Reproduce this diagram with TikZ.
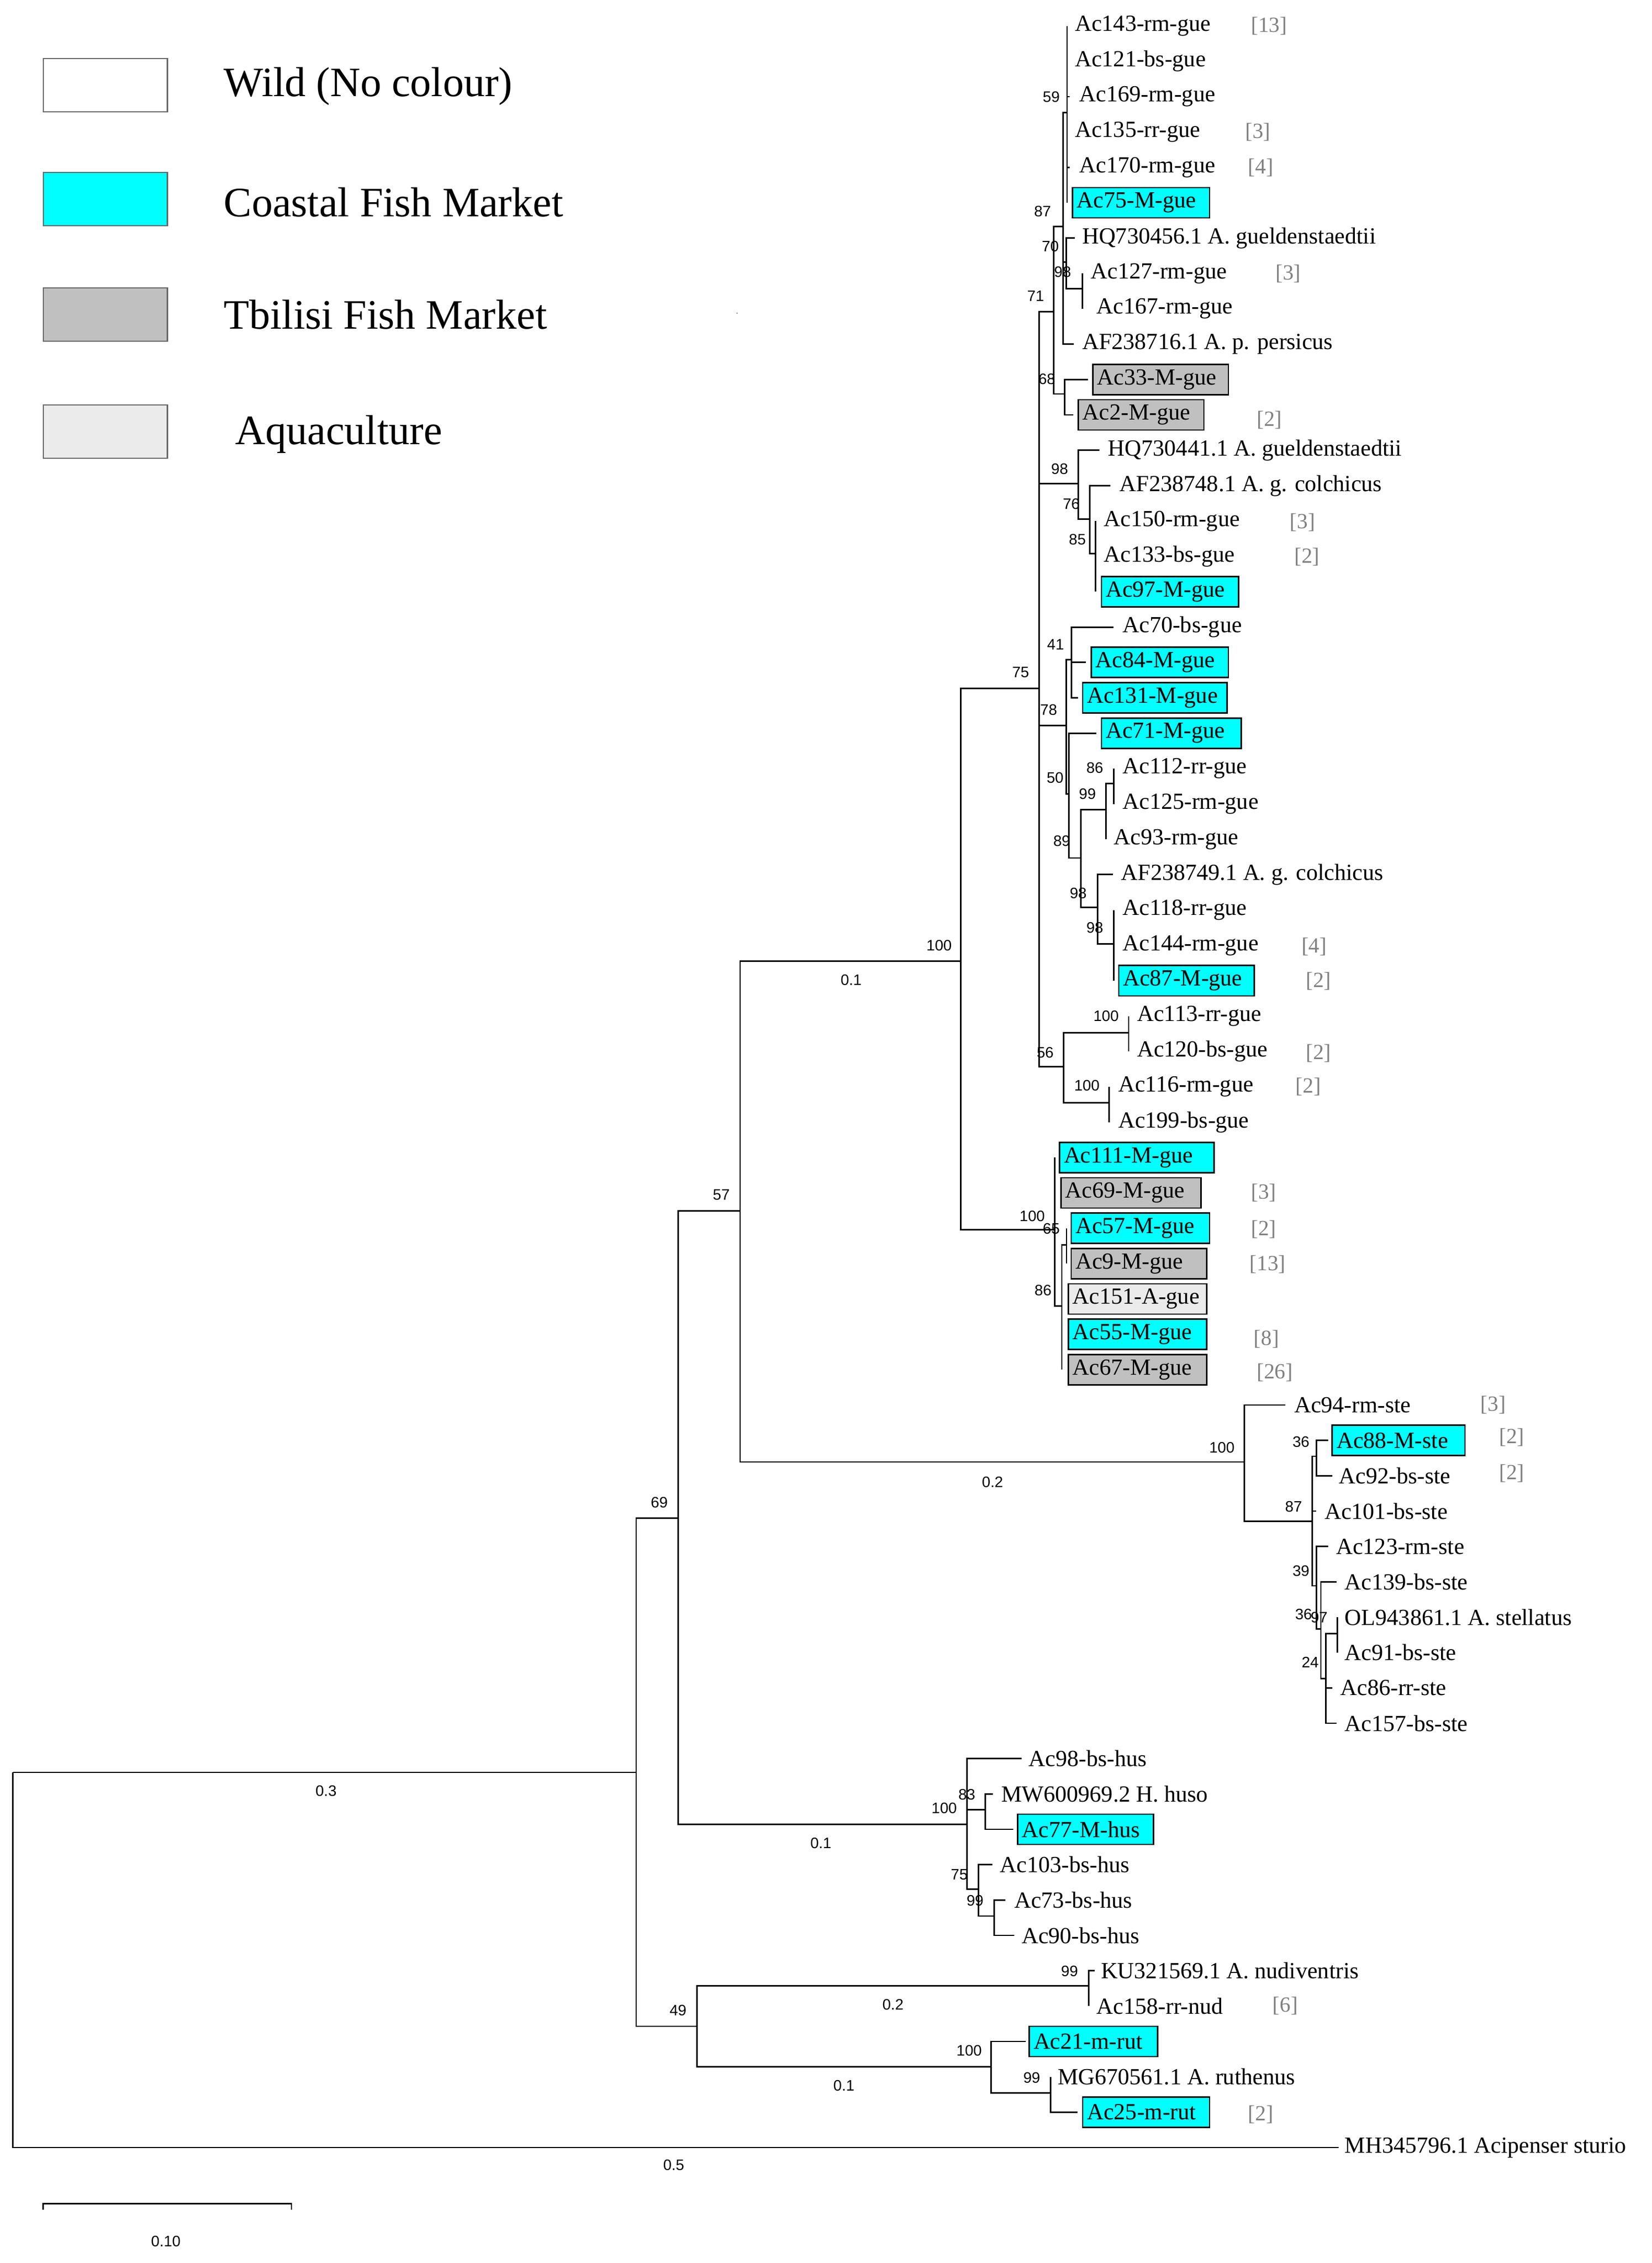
\documentclass[tikz,border=0pt]{standalone}
\usepackage{fontspec}
\setmainfont{Liberation Serif}
\newfontfamily\numfont{Liberation Sans}
\definecolor{cyanf}{RGB}{0,255,255}
\definecolor{tbg}{RGB}{192,192,192}
\definecolor{aqg}{RGB}{235,235,235}
\definecolor{brk}{RGB}{128,128,128}
\tikzset{
  br/.style={line width=1pt, black},
  lf/.style={anchor=west, inner sep=0pt, font=\fontsize{16}{16}\selectfont},
  bx/.style={anchor=west, draw=black, line width=1pt, inner sep=0pt, minimum height=21pt, font=\fontsize{16}{16}\selectfont, align=left},
  bs/.style={font=\numfont\fontsize{10.5}{10.5}\selectfont, inner sep=0pt},
  cnt/.style={anchor=west, inner sep=0pt, text=brk, font=\fontsize{15}{15}\selectfont},
  lgb/.style={draw=black!60, line width=0.8pt, minimum width=86pt, minimum height=37pt, inner sep=0pt},
  lgt/.style={anchor=west, inner sep=0pt, font=\fontsize{29}{29}\selectfont}
}
\newcommand{\lbox}[6]{\node[bx, fill=#1, text width=#5pt] (#6) at (#2,#3) {\hspace{3pt}#4};}
\begin{document}
\begin{tikzpicture}[x=1pt,y=-1pt]
\useasboundingbox (0,0) rectangle (1145,1568);
% legend
\node[lgb, fill=white] (lg1) at (73,59) {};
\node[lgb, fill=cyanf] (lg2) at (73,138) {};
\node[lgb, fill=tbg] (lg3) at (73,218) {};
\node[lgb, fill=aqg] (lg4) at (73,299) {};
\node[lgt] (lt1) at (155,60) {Wild (No colour)};
\node[lgt] (lt2) at (155,140) {Coastal Fish Market};
\node[lgt] (lt3) at (155,218) {Tbilisi Fish Market};
\node[lgt] (lt4) at (163,301) {Aquaculture};
\node[inner sep=0pt, font=\tiny] (dot) at (511,217) {.};

% internal nodes
\coordinate (R) at (9,1228);
\coordinate (A) at (441,1228);
\coordinate (N69) at (470,1052);
\coordinate (N49) at (483,1404);
\coordinate (N57) at (513,839);
\coordinate (Nhus) at (670.2,1264);
\coordinate (Ngue) at (666,666);
\coordinate (Nste) at (862.6,1013);
\coordinate (N75) at (720.3,477);
\coordinate (Nmk) at (731.1,852);
\coordinate (N71) at (730.5,216);
\coordinate (Na) at (737,157);
\coordinate (N68) at (738.1,273);
\coordinate (N59) at (739.6,78);
\coordinate (Nhq) at (739,181.5);
\coordinate (N98b) at (750.4,200);
\coordinate (N98) at (747.4,335);
\coordinate (N76) at (755.5,359.6);
\coordinate (N85) at (759.5,383.7);
\coordinate (N78) at (739,502.7);
\coordinate (N41) at (742.6,457);
\coordinate (N50) at (740.8,550);
\coordinate (N89) at (749.2,594.5);
\coordinate (N99) at (766.7,561);
\coordinate (N86) at (772,543);
\coordinate (N98c) at (760.7,628.7);
\coordinate (N98d) at (772,654);
\coordinate (N56) at (737.4,739);
\coordinate (N100a) at (782.4,715.5);
\coordinate (N100b) at (768.8,764);
\coordinate (N86m) at (736,905);
\coordinate (N65) at (739.3,862.6);
\coordinate (N87s) at (909.6,1054);
\coordinate (N36a) at (912.6,1009);
\coordinate (N39) at (912.6,1098.8);
\coordinate (N36b) at (915.6,1128.7);
\coordinate (N24) at (919,1163);
\coordinate (N97) at (927.1,1131.8);
\coordinate (N83) at (683.1,1254);
\coordinate (N75h) at (678.3,1309);
\coordinate (N99h) at (689.1,1327.6);
\coordinate (Nnud) at (754.6,1376);
\coordinate (Nrut) at (687.1,1432);
\coordinate (N99r) at (728.1,1450);

% leaf tips
\coordinate (t1) at (739.6,18);
\coordinate (t2) at (739.6,42.5);
\coordinate (t3) at (741.4,67);
\coordinate (t4) at (739.6,91.5);
\coordinate (t5) at (741.4,116);
\coordinate (t6) at (739.6,140.5);
\coordinate (t7) at (745,165);
\coordinate (t8) at (750.4,189.5);
\coordinate (t9) at (750.4,214);
\coordinate (t10) at (744.4,238.5);
\coordinate (t11) at (754,263);
\coordinate (t12) at (744,287.5);
\coordinate (t13) at (762,312);
\coordinate (t14) at (769.7,336.5);
\coordinate (t15) at (759.5,361);
\coordinate (t16) at (759.5,385.5);
\coordinate (t17) at (759.5,410);
\coordinate (t18) at (772,434.5);
\coordinate (t19) at (752.8,459);
\coordinate (t20) at (747.4,483.5);
\coordinate (t21) at (760,508);
\coordinate (t22) at (772,532.5);
\coordinate (t23) at (772,557);
\coordinate (t24) at (766.7,581.5);
\coordinate (t25) at (771.5,606);
\coordinate (t26) at (772,630.5);
\coordinate (t27) at (772,655);
\coordinate (t28) at (772,679.5);
\coordinate (t29) at (782.4,704);
\coordinate (t30) at (782.4,728.5);
\coordinate (t31) at (768.8,753);
\coordinate (t32) at (768.8,777.5);
\coordinate (t33) at (731.1,802);
\coordinate (t34) at (731.1,826.5);
\coordinate (t35) at (739.3,851);
\coordinate (t36) at (739.3,875.5);
\coordinate (t37) at (736,900);
\coordinate (t38) at (736,924.5);
\coordinate (t39) at (736,949);
\coordinate (t40) at (891,973.5);
\coordinate (t41) at (920.5,998);
\coordinate (t42) at (923.5,1022.5);
\coordinate (t43) at (912.5,1047);
\coordinate (t44) at (920.5,1071.5);
\coordinate (t45) at (926.5,1096);
\coordinate (t46) at (927.1,1120.5);
\coordinate (t47) at (927.1,1145);
\coordinate (t48) at (923.5,1169.5);
\coordinate (t49) at (926.5,1194);
\coordinate (t50) at (708.2,1218.5);
\coordinate (t51) at (688.3,1243);
\coordinate (t52) at (702.2,1267.5);
\coordinate (t53) at (687.7,1292);
\coordinate (t54) at (697.1,1316.5);
\coordinate (t55) at (703.1,1341);
\coordinate (t56) at (758.9,1365.5);
\coordinate (t57) at (754.6,1390);
\coordinate (t58) at (711.2,1414.5);
\coordinate (t59) at (728.1,1439);
\coordinate (t60) at (746.8,1463.5);
\coordinate (t61) at (928,1488);

% branches
\draw[br] (R) |- (A); \draw[br] (R) |- (t61);
\draw[br] (A) |- (N69); \draw[br] (A) |- (N49);
\draw[br] (N69) |- (N57); \draw[br] (N69) |- (Nhus);
\draw[br] (N57) |- (Ngue); \draw[br] (N57) |- (Nste);
\draw[br] (Ngue) |- (N75); \draw[br] (Ngue) |- (Nmk);
\foreach \c in {N71,N98,N78,N56} \draw[br] (N75) |- (\c);
\draw[br] (N71) |- (Na); \draw[br] (N71) |- (N68);
\foreach \c in {N59,Nhq,t10} \draw[br] (Na) |- (\c);
\foreach \c in {t1,t2,t3,t4,t5,t6} \draw[br] (N59) |- (\c);
\draw[br] (Nhq) |- (t7); \draw[br] (Nhq) |- (N98b);
\draw[br] (N98b) |- (t8); \draw[br] (N98b) |- (t9);
\draw[br] (N68) |- (t11); \draw[br] (N68) |- (t12);
\draw[br] (N98) |- (t13); \draw[br] (N98) |- (N76);
\draw[br] (N76) |- (t14); \draw[br] (N76) |- (N85);
\foreach \c in {t15,t16,t17} \draw[br] (N85) |- (\c);
\draw[br] (N78) |- (N41); \draw[br] (N78) |- (N50);
\foreach \c in {t18,t19,t20} \draw[br] (N41) |- (\c);
\draw[br] (N50) |- (t21); \draw[br] (N50) |- (N89);
\draw[br] (N89) |- (N99); \draw[br] (N89) |- (N98c);
\draw[br] (N99) |- (N86); \draw[br] (N99) |- (t24);
\draw[br] (N86) |- (t22); \draw[br] (N86) |- (t23);
\draw[br] (N98c) |- (t25); \draw[br] (N98c) |- (N98d);
\foreach \c in {t26,t27,t28} \draw[br] (N98d) |- (\c);
\draw[br] (N56) |- (N100a); \draw[br] (N56) |- (N100b);
\draw[br] (N100a) |- (t29); \draw[br] (N100a) |- (t30);
\draw[br] (N100b) |- (t31); \draw[br] (N100b) |- (t32);
\foreach \c in {t33,t34,N86m} \draw[br] (Nmk) |- (\c);
\foreach \c in {N65,t37,t38,t39} \draw[br] (N86m) |- (\c);
\draw[br] (N65) |- (t35); \draw[br] (N65) |- (t36);
\draw[br] (Nste) |- (t40); \draw[br] (Nste) |- (N87s);
\foreach \c in {N36a,t43,N39} \draw[br] (N87s) |- (\c);
\draw[br] (N36a) |- (t41); \draw[br] (N36a) |- (t42);
\draw[br] (N39) |- (t44); \draw[br] (N39) |- (N36b);
\draw[br] (N36b) |- (t45); \draw[br] (N36b) |- (N24);
\foreach \c in {N97,t48,t49} \draw[br] (N24) |- (\c);
\draw[br] (N97) |- (t46); \draw[br] (N97) |- (t47);
\foreach \c in {t50,N83,N75h} \draw[br] (Nhus) |- (\c);
\draw[br] (N83) |- (t51); \draw[br] (N83) |- (t52);
\draw[br] (N75h) |- (t53); \draw[br] (N75h) |- (N99h);
\draw[br] (N99h) |- (t54); \draw[br] (N99h) |- (t55);
\draw[br] (N49) |- (Nnud); \draw[br] (N49) |- (Nrut);
\draw[br] (Nnud) |- (t56); \draw[br] (Nnud) |- (t57);
\draw[br] (Nrut) |- (t58); \draw[br] (Nrut) |- (N99r);
\draw[br] (N99r) |- (t59); \draw[br] (N99r) |- (t60);

% leaf labels
\node[lf] (l1) at (745,18) {Ac143-rm-gue};
\node[lf] (l2) at (745,42.5) {Ac121-bs-gue};
\node[lf] (l3) at (748,67) {Ac169-rm-gue};
\node[lf] (l4) at (745,91.5) {Ac135-rr-gue};
\node[lf] (l5) at (748,116) {Ac170-rm-gue};
\lbox{cyanf}{743}{140.5}{Ac75-M-gue}{95}{l6}
\node[lf] (l7) at (750,165) {HQ730456.1 A. gueldenstaedtii};
\node[lf] (l8) at (756,189.5) {Ac127-rm-gue};
\node[lf] (l9) at (760,214) {Ac167-rm-gue};
\node[lf] (l10) at (750,238.5) {AF238716.1 A. p. persicus};
\lbox{tbg}{757}{263}{Ac33-M-gue}{94}{l11}
\lbox{tbg}{747}{287.5}{Ac2-M-gue}{87}{l12}
\node[lf] (l13) at (768,312) {HQ730441.1 A. gueldenstaedtii};
\node[lf] (l14) at (776,336.5) {AF238748.1 A. g. colchicus};
\node[lf] (l15) at (765,361) {Ac150-rm-gue};
\node[lf] (l16) at (765,385.5) {Ac133-bs-gue};
\lbox{cyanf}{763}{410}{Ac97-M-gue}{95}{l17}
\node[lf] (l18) at (778,434.5) {Ac70-bs-gue};
\lbox{cyanf}{756}{459}{Ac84-M-gue}{95}{l19}
\lbox{cyanf}{750}{483.5}{Ac131-M-gue}{100}{l20}
\lbox{cyanf}{763}{508}{Ac71-M-gue}{97}{l21}
\node[lf] (l22) at (778,532.5) {Ac112-rr-gue};
\node[lf] (l23) at (778,557) {Ac125-rm-gue};
\node[lf] (l24) at (772,581.5) {Ac93-rm-gue};
\node[lf] (l25) at (777,606) {AF238749.1 A. g. colchicus};
\node[lf] (l26) at (778,630.5) {Ac118-rr-gue};
\node[lf] (l27) at (778,655) {Ac144-rm-gue};
\lbox{cyanf}{775}{679.5}{Ac87-M-gue}{94}{l28}
\node[lf] (l29) at (788,704) {Ac113-rr-gue};
\node[lf] (l30) at (788,728.5) {Ac120-bs-gue};
\node[lf] (l31) at (775,753) {Ac116-rm-gue};
\node[lf] (l32) at (775,777.5) {Ac199-bs-gue};
\lbox{cyanf}{734}{802}{Ac111-M-gue}{107}{l33}
\lbox{tbg}{735}{826.5}{Ac69-M-gue}{97}{l34}
\lbox{cyanf}{742}{851}{Ac57-M-gue}{96}{l35}
\lbox{tbg}{742}{875.5}{Ac9-M-gue}{94}{l36}
\lbox{aqg}{740}{900}{Ac151-A-gue}{96}{l37}
\lbox{cyanf}{740}{924.5}{Ac55-M-gue}{96}{l38}
\lbox{tbg}{740}{949}{Ac67-M-gue}{96}{l39}
\node[lf] (l40) at (897,973.5) {Ac94-rm-ste};
\lbox{cyanf}{923}{998}{Ac88-M-ste}{92}{l41}
\node[lf] (l42) at (928,1022.5) {Ac92-bs-ste};
\node[lf] (l43) at (918,1047) {Ac101-bs-ste};
\node[lf] (l44) at (926,1071.5) {Ac123-rm-ste};
\node[lf] (l45) at (932,1096) {Ac139-bs-ste};
\node[lf] (l46) at (932,1120.5) {OL943861.1 A. stellatus};
\node[lf] (l47) at (932,1145) {Ac91-bs-ste};
\node[lf] (l48) at (929,1169.5) {Ac86-rr-ste};
\node[lf] (l49) at (932,1194) {Ac157-bs-ste};
\node[lf] (l50) at (713,1218.5) {Ac98-bs-hus};
\node[lf] (l51) at (694,1243) {MW600969.2 H. huso};
\lbox{cyanf}{705}{1267.5}{Ac77-M-hus}{94}{l52}
\node[lf] (l53) at (693,1292) {Ac103-bs-hus};
\node[lf] (l54) at (703,1316.5) {Ac73-bs-hus};
\node[lf] (l55) at (708,1341) {Ac90-bs-hus};
\node[lf] (l56) at (763,1365.5) {KU321569.1 A. nudiventris};
\node[lf] (l57) at (760,1390) {Ac158-rr-nud};
\lbox{cyanf}{713}{1414.5}{Ac21-m-rut}{89}{l58}
\node[lf] (l59) at (733,1439) {MG670561.1 A. ruthenus};
\lbox{cyanf}{750}{1463.5}{Ac25-m-rut}{88}{l60}
\node[lf] (l61) at (932,1488) {MH345796.1 Acipenser sturio};

% counts
\node[cnt] (c1) at (867,18) {[13]};
\node[cnt] (c4) at (863,91.5) {[3]};
\node[cnt] (c5) at (865,116) {[4]};
\node[cnt] (c8) at (884,189.5) {[3]};
\node[cnt] (c12) at (871,291) {[2]};
\node[cnt] (c15) at (894,362) {[3]};
\node[cnt] (c16) at (897,386) {[2]};
\node[cnt] (c27) at (902,656) {[4]};
\node[cnt] (c28) at (905,680) {[2]};
\node[cnt] (c30) at (905,730) {[2]};
\node[cnt] (c31) at (898,753) {[2]};
\node[cnt] (c34) at (867,826.5) {[3]};
\node[cnt] (c35) at (867,852) {[2]};
\node[cnt] (c36) at (866,876) {[13]};
\node[cnt] (c38) at (869,928) {[8]};
\node[cnt] (c39) at (871,951) {[26]};
\node[cnt] (c40) at (1026,973.5) {[3]};
\node[cnt] (c41) at (1039,996) {[2]};
\node[cnt] (c42) at (1039,1021) {[2]};
\node[cnt] (c57) at (882,1390) {[6]};
\node[cnt] (c60) at (865,1465) {[2]};

% bootstrap values
\node[bs] at (728.7,67.3) {59};
\node[bs] at (722.7,146.4) {87};
\node[bs] at (728.1,170.8) {70};
\node[bs] at (736.6,188.4) {98};
\node[bs] at (717.9,205) {71};
\node[bs] at (725.7,262.5) {68};
\node[bs] at (734.5,325.1) {98};
\node[bs] at (742.6,349.1) {76};
\node[bs] at (746.8,373.9) {85};
\node[bs] at (731.7,446.7) {41};
\node[bs] at (707.5,466) {75};
\node[bs] at (726.9,492) {78};
\node[bs] at (731.4,538.9) {50};
\node[bs] at (758.9,532) {86};
\node[bs] at (753.8,550.2) {99};
\node[bs] at (736,582.8) {89};
\node[bs] at (747.4,619) {98};
\node[bs] at (758.9,642.8) {98};
\node[bs] at (766.7,703.9) {100};
\node[bs] at (724.5,729.3) {56};
\node[bs] at (753.4,752.3) {100};
\node[bs] at (715.5,842.5) {100};
\node[bs] at (728.7,851.2) {65};
\node[bs] at (723,894.1) {86};
\node[bs] at (651,655) {100};
\node[bs] at (500,828) {57};
\node[bs] at (457,1041) {69};
\node[bs] at (470,1393) {49};
\node[bs] at (847,1003) {100};
\node[bs] at (901.8,999) {36};
\node[bs] at (896.7,1043.9) {87};
\node[bs] at (901.8,1088.6) {39};
\node[bs] at (903.6,1118.4) {36};
\node[bs] at (914.4,1120.8) {97};
\node[bs] at (908.2,1151.9) {24};
\node[bs] at (654.5,1253) {100};
\node[bs] at (670.2,1243.4) {83};
\node[bs] at (665,1298.8) {75};
\node[bs] at (675.9,1316.8) {99};
\node[bs] at (741.4,1365.8) {99};
\node[bs] at (671.8,1420.9) {100};
\node[bs] at (715.2,1439.6) {99};
% branch lengths
\node[bs] at (226,1241) {0.3};
\node[bs] at (467,1500) {0.5};
\node[bs] at (590,679) {0.1};
\node[bs] at (688,1027) {0.2};
\node[bs] at (569,1277) {0.1};
\node[bs] at (619,1389) {0.2};
\node[bs] at (585,1445) {0.1};
% scale bar
\coordinate (s1) at (30,1527); \coordinate (s2) at (202,1527);
\draw[br] ([yshift=-4pt]s1) -- (s1) -- (s2) -- ([yshift=-4pt]s2);
\node[bs] (sl) at (115,1553) {0.10};
\end{tikzpicture}
\end{document}
